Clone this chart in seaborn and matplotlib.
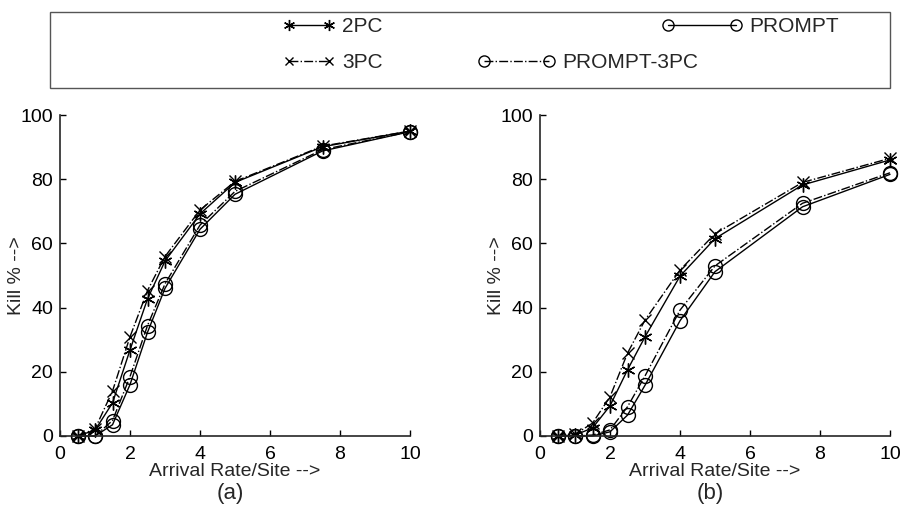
import numpy as np
import pandas as pd
import matplotlib
matplotlib.use("Agg")
import matplotlib.pyplot as plt
import seaborn as sns
from matplotlib.lines import Line2D
from matplotlib.patches import Rectangle

# ---- data ----
arrival = [0.5, 1, 1.5, 2, 2.5, 3, 4, 5, 7.5, 10]

a_2pc = [0, 1.8, 10.3, 26.8, 42.7, 54.5, 69.2, 79.0, 90.1, 95]
a_3pc = [0, 2.2, 14.0, 30.9, 45.3, 55.9, 70.4, 79.3, 90.3, 95]
a_prompt = [0, 0, 3.5, 16.0, 32.3, 46.0, 64.4, 75.3, 88.8, 94.8]
a_prompt3 = [0, 0, 4.8, 18.5, 34.4, 47.4, 65.7, 76.2, 89.2, 94.8]

b_2pc = [0, 0.3, 2.5, 9.4, 20.6, 30.9, 49.8, 61.5, 78.2, 86.0]
b_3pc = [0, 0.5, 4.0, 12.2, 25.8, 36.1, 51.7, 63.0, 79.0, 86.5]
b_prompt = [0, 0, 0, 1.3, 6.5, 15.8, 35.9, 51.2, 71.4, 81.5]
b_prompt3 = [0, 0, 0.3, 1.9, 9.1, 18.7, 39.2, 53.0, 72.5, 82.0]

series_names = ["2PC", "3PC", "PROMPT", "PROMPT-3PC"]
xticks = [0, 2, 4, 6, 8, 10]
yticks = [0, 20, 40, 60, 80, 100]
panel_labels = ["(a)", "(b)"]

# ---- style ----
sns.set_style("ticks")
plt.rcParams["font.family"] = ["Liberation Sans", "DejaVu Sans"]
plt.rcParams["xtick.direction"] = "in"
plt.rcParams["ytick.direction"] = "in"

styles = {
    "2PC": dict(linestyle="-", marker=(6, 2, 0), ms=10),
    "3PC": dict(linestyle="-.", marker="x", ms=8),
    "PROMPT": dict(linestyle="-", marker="o", ms=10),
    "PROMPT-3PC": dict(linestyle="-.", marker="o", ms=10),
}

fig = plt.figure(figsize=(9.01, 5.09), dpi=100)
W, H = 901, 509
axes_px = [(60, 115, 350, 321), (540, 115, 350, 321)]
data_sets = [
    [a_2pc, a_3pc, a_prompt, a_prompt3],
    [b_2pc, b_3pc, b_prompt, b_prompt3],
]

for (lx, ty, w, h), ds, pl in zip(axes_px, data_sets, panel_labels):
    ax = fig.add_axes([lx / W, (H - ty - h) / H, w / W, h / H])
    for name, vals in zip(series_names, ds):
        df = pd.DataFrame({"x": arrival, "y": vals})
        st = styles[name]
        sns.lineplot(data=df, x="x", y="y", ax=ax, color="black", lw=1.0,
                     linestyle=st["linestyle"], marker=st["marker"],
                     markersize=st["ms"], markerfacecolor="none",
                     markeredgecolor="black", markeredgewidth=1.0,
                     clip_on=False, legend=False)
    ax.set_xlim(0, 10)
    ax.set_ylim(0, 100)
    ax.set_xticks(xticks)
    ax.set_yticks(yticks)
    ax.tick_params(labelsize=14, length=4, width=1, colors="black")
    ax.tick_params(axis="x", pad=7)
    ax.tick_params(axis="y", pad=5)
    for s in ["top", "right"]:
        ax.spines[s].set_visible(False)
    for s in ["left", "bottom"]:
        ax.spines[s].set_linewidth(1.2)
    ax.set_xlabel("Arrival Rate/Site -->", fontsize=14)
    ax.set_ylabel("Kill % -->", fontsize=14)
    ax.xaxis.set_label_coords(0.5, -0.085)
    ax.yaxis.set_label_coords(-0.1, 0.5)
    fig.text((lx + w / 2 - 5) / W, 1 - 494 / H, pl, ha="center", va="center",
             fontsize=16)

# ---- legend box ----
fig.patches.append(Rectangle((50 / W, (H - 88) / H), 840 / W, 76 / H,
                             transform=fig.transFigure, fill=False,
                             edgecolor="#555555", lw=1.0))

def handle(name):
    st = styles[name]
    return Line2D([], [], color="black", lw=1.0, linestyle=st["linestyle"],
                  marker=st["marker"], markersize=st["ms"] * 0.8,
                  markerfacecolor="none", markeredgecolor="black")

legend_pos = {  # name: (x px of handle start, y px center, handlelength)
    "2PC": (283, 27, 2.5),
    "PROMPT": (662, 27, 3.85),
    "3PC": (283, 63, 2.5),
    "PROMPT-3PC": (478, 63, 3.7),
}
for name in series_names:
    x0, yc, hl = legend_pos[name]
    fig.legend(handles=[handle(name)], labels=[name], loc="center left",
               bbox_to_anchor=(x0 / W, 1 - yc / H), frameon=False,
               numpoints=2, handlelength=hl, handletextpad=0.35,
               borderpad=0, borderaxespad=0, fontsize=15)

fig.savefig("out.png", dpi=100)
